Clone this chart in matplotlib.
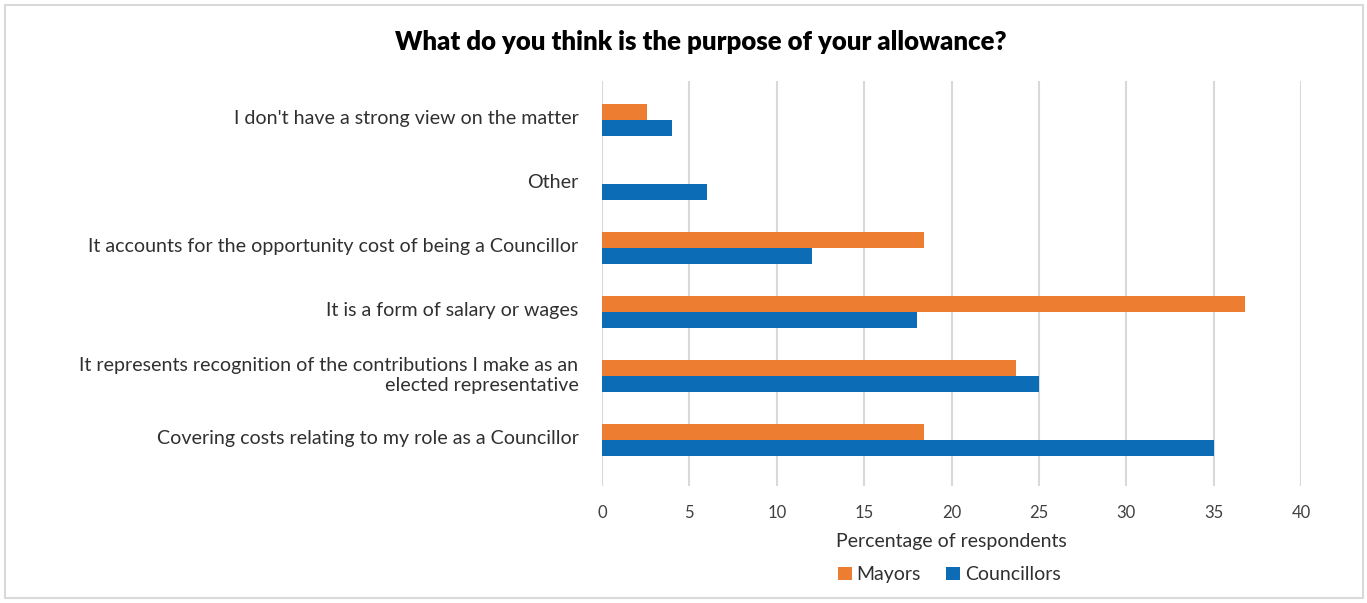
import matplotlib.pyplot as plt
from matplotlib.patches import Rectangle
import numpy as np

# data (bottom to top as drawn)
categories = [
    "Covering costs relating to my role as a Councillor",
    "It represents recognition of the contributions I make as an\nelected representative",
    "It is a form of salary or wages",
    "It accounts for the opportunity cost of being a Councillor",
    "Other",
    "I don't have a strong view on the matter",
]
mayors = [18.4, 23.7, 36.8, 18.4, 0, 2.6]
councillors = [35, 25, 18, 12, 6, 4]
xticks = [0, 5, 10, 15, 20, 25, 30, 35, 40]

ORANGE = "#ED7D31"
BLUE = "#0C6CB6"
TXT = "#303030"
FONT = ["Lato", "DejaVu Sans"]

plt.rcParams["font.family"] = FONT

fig = plt.figure(figsize=(13.67, 6.03), dpi=100)
fig.patches.append(Rectangle((0.004, 0.008), 0.993, 0.984, transform=fig.transFigure,
                             fill=False, edgecolor="#d9d9d9", linewidth=1.5))

ax = fig.add_axes([0.4404, 0.194, 0.5113, 0.6716])
y = np.arange(len(categories))
h = 0.25
ax.barh(y + h / 2, mayors, height=h, color=ORANGE, label="Mayors")
ax.barh(y - h / 2, councillors, height=h, color=BLUE, label="Councillors")

ax.set_xlim(0, 40)
ax.set_ylim(-0.72, 5.61)
ax.set_xticks(xticks)
# labels sit a touch above the bar-pair centre in the original
ax.set_yticks(y + 0.05)
ax.set_yticklabels(categories, fontsize=14.1, color=TXT)
ax.tick_params(axis="x", length=0, pad=14, labelsize=12, labelcolor="#404040")
ax.tick_params(axis="y", length=0, pad=17)
ax.grid(axis="x", color="#d9d9d9", linewidth=1.5)
ax.set_axisbelow(True)
for s in ax.spines.values():
    s.set_visible(False)

ax.set_xlabel("Percentage of respondents", fontsize=14, color=TXT, labelpad=8)

fig.text(0.513, 0.93, "What do you think is the purpose of your allowance?",
         ha="center", va="center", fontsize=18.5, fontweight="heavy", color="black")

ax.legend(loc="upper center", bbox_to_anchor=(0.497, -0.155), ncol=2, frameon=False,
          prop={"family": FONT, "size": 14}, labelcolor=TXT,
          handlelength=0.7, handleheight=0.7, handletextpad=0.25, columnspacing=1.3)

fig.savefig("out.png", dpi=100)
